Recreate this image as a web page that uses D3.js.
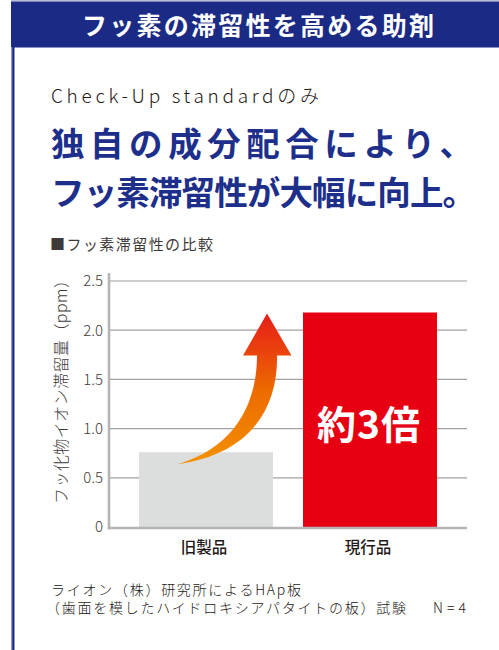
<!DOCTYPE html>
<html><head><meta charset="utf-8">
<script src="https://cdn.jsdelivr.net/npm/d3@7"></script>
<style>
html,body{margin:0;padding:0;background:#fff;}
svg{display:block;font-family:"Noto Sans CJK JP","Noto Sans",sans-serif;}
</style></head>
<body>
<script>
// ---- data ----
const categories = ["旧製品", "現行品"];
const values = [0.76, 2.18];
const barColors = ["#dcdddd", "#e60012"];
const yTicks = [0, 0.5, 1.0, 1.5, 2.0, 2.5];
const yTickLabels = ["0", "0.5", "1.0", "1.5", "2.0", "2.5"];
const headerText = "フッ素の滞留性を高める助剤";
const subText = "Check-Up standardのみ";
const titleLines = ["独自の成分配合により、", "フッ素滞留性が大幅に向上。"];
const sectionLabel = "■フッ素滞留性の比較";
const yAxisLabel = "フッ化物イオン滞留量（ppm）";
const barAnnotation = "約3倍";
const footLines = ["ライオン（株）研究所によるHAp板", "（歯面を模したハイドロキシアパタイトの板）試験"];
const footN = "N=4";

const W = 499, H = 650;
const navy = "#1b2a84";
const svg = d3.select("body").append("svg").attr("width", W).attr("height", H);

// gradient for arrow
const defs = svg.append("defs");
const grad = defs.append("linearGradient").attr("id", "arrowGrad")
  .attr("gradientUnits", "userSpaceOnUse").attr("x1", 0).attr("y1", 465).attr("x2", 0).attr("y2", 315);
grad.append("stop").attr("offset", "0%").attr("stop-color", "#f39200");
grad.append("stop").attr("offset", "50%").attr("stop-color", "#ed6a00");
grad.append("stop").attr("offset", "100%").attr("stop-color", "#e61e19");

// header band & frame
svg.append("rect").attr("x", 11).attr("y", 0).attr("width", W - 11).attr("height", 1.5).attr("fill", "#b9bed8");
svg.append("rect").attr("x", 11).attr("y", 1.5).attr("width", W - 11).attr("height", 46).attr("fill", navy);
svg.append("rect").attr("x", 11).attr("y", 47).attr("width", 1.2).attr("height", H - 47).attr("fill", "#8e97c6");
svg.append("rect").attr("x", 12.2).attr("y", 47).attr("width", 2.3).attr("height", H - 47).attr("fill", navy);

svg.append("text").attr("x", 258).attr("y", 34.5).attr("text-anchor", "middle")
  .attr("font-size", 25).attr("font-weight", 700).attr("fill", "#fff")
  .attr("textLength", 352).attr("lengthAdjust", "spacing").text(headerText);

svg.append("text").attr("x", 51).attr("y", 102.5)
  .attr("font-size", 19).attr("font-weight", 300).attr("fill", "#231815")
  .attr("textLength", 268).attr("lengthAdjust", "spacing").text(subText);

const titleBase = [155.5, 204.5];
titleLines.forEach((t, i) => {
  svg.append("text").attr("x", 51).attr("y", titleBase[i])
    .attr("font-size", 33.5).attr("font-weight", 700).attr("fill", "#1d2f8b")
    .attr("textLength", i === 0 ? 422 : 425).attr("lengthAdjust", "spacing").text(t);
});

svg.append("text").attr("x", 50).attr("y", 250)
  .attr("font-size", 15).attr("font-weight", 400).attr("fill", "#3e3a39")
  .attr("textLength", 163).attr("lengthAdjust", "spacing").text(sectionLabel);

// ---- chart ----
const x0 = 109, x1 = 467;
const y = d3.scaleLinear().domain([0, 2.5]).range([527, 281]);
const x = d3.scaleBand().domain(categories).range([139, 437]).paddingInner(0.183).paddingOuter(0);

// gridlines
svg.append("g").selectAll("line").data(yTicks.filter(d => d > 0)).join("line")
  .attr("x1", x0).attr("x2", x1).attr("y1", d => y(d)).attr("y2", d => y(d))
  .attr("stroke", "#9fa0a0").attr("stroke-width", 1.2);

// bars
svg.append("g").selectAll("rect").data(values).join("rect")
  .attr("x", (d, i) => x(categories[i])).attr("width", x.bandwidth())
  .attr("y", d => y(d)).attr("height", d => y(0) - y(d))
  .attr("fill", (d, i) => barColors[i]);

// axes lines
svg.append("line").attr("x1", x0).attr("x2", x0).attr("y1", 273).attr("y2", 529.3)
  .attr("stroke", "#b5b5b6").attr("stroke-width", 2.6);
svg.append("line").attr("x1", x0 - 1.3).attr("x2", x1).attr("y1", 528).attr("y2", 528)
  .attr("stroke", "#b5b5b6").attr("stroke-width", 2.6);

// y ticks via d3 axis (labels only)
const yAxis = d3.axisLeft(y).tickValues(yTicks).tickFormat((d, i) => yTickLabels[i]).tickSize(0).tickPadding(0);
const gy = svg.append("g").attr("transform", `translate(${x0 - 6},0)`).call(yAxis);
gy.select(".domain").remove();
gy.selectAll("text").attr("font-size", 15).attr("font-weight", 300).attr("fill", "#3e3a39")
  .attr("font-family", "'Noto Sans CJK JP','Noto Sans',sans-serif");

// x category labels
const xAxis = d3.axisBottom(x).tickSize(0).tickPadding(0);
const gx = svg.append("g").attr("transform", "translate(-2,542)").call(xAxis);
gx.select(".domain").remove();
gx.selectAll("text").attr("font-size", 15.5).attr("font-weight", 500).attr("fill", "#231815")
  .attr("font-family", "'Noto Sans CJK JP','Noto Sans',sans-serif");

// y axis title
svg.append("text").attr("transform", "translate(67,388) rotate(-90)").attr("text-anchor", "middle")
  .attr("font-size", 16).attr("font-weight", 300).attr("fill", "#3e3a39")
  .attr("textLength", 232).attr("lengthAdjust", "spacing").text(yAxisLabel);

// annotation in red bar
const cx2 = x(categories[1]) + x.bandwidth() / 2;
svg.append("text").attr("x", cx2 - 1).attr("y", 439).attr("text-anchor", "middle")
  .attr("font-size", 39).attr("font-weight", 700).attr("fill", "#fff")
  .attr("letter-spacing", 1).text(barAnnotation);

// curved arrow (from old bar top to new bar top)
const tx = x(categories[0]) + 39, ty = y(values[0]) + 12;   // tail
const hx = x(categories[1]) - 36, hy = y(values[1]) + 1;     // tip
const baseY = hy + 42;
const arrowPath = [
  `M${tx},${ty}`,
  `C${tx + 72},${ty - 10} ${hx + 11},${baseY + 53} ${hx + 10},${baseY}`,
  `L${hx + 24.5},${baseY}`,
  `L${hx},${hy}`,
  `L${hx - 24},${baseY}`,
  `L${hx - 10},${baseY}`,
  `C${hx - 10},${baseY + 48} ${tx + 57},${ty - 17} ${tx},${ty}`,
  "Z"
].join(" ");
svg.append("path").attr("d", arrowPath).attr("fill", "url(#arrowGrad)");

// footnote
svg.append("text").attr("x", 51).attr("y", 594.5)
  .attr("font-size", 14).attr("font-weight", 300).attr("fill", "#231815")
  .attr("textLength", 250).attr("lengthAdjust", "spacing").text(footLines[0]);
svg.append("text").attr("x", 46).attr("y", 613)
  .attr("font-size", 14).attr("font-weight", 300).attr("fill", "#231815")
  .attr("textLength", 360).attr("lengthAdjust", "spacing").text(footLines[1]);
svg.append("text").attr("x", 433).attr("y", 613)
  .attr("font-size", 14).attr("font-weight", 300).attr("fill", "#231815")
  .attr("textLength", 33).attr("lengthAdjust", "spacing").text(footN);
</script>
</body></html>
